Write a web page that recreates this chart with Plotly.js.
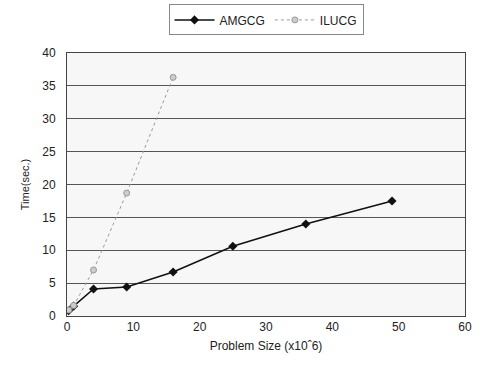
<!DOCTYPE html>
<html><head><meta charset="utf-8">
<script src="https://cdn.plot.ly/plotly-3.0.1.min.js"></script>
<style>html,body{margin:0;padding:0;background:#fff;}#chart{width:483px;height:366px;}</style>
</head><body><div id="chart"></div>
<script>
var amgX = [0.25, 1, 4, 9, 16, 25, 36, 49];
var amgY = [0.8, 1.5, 4.1, 4.4, 6.7, 10.6, 14.0, 17.5];
var iluX = [0.25, 1, 4, 9, 16];
var iluY = [0.9, 1.6, 7.0, 18.7, 36.3];
var xTicks = [0, 10, 20, 30, 40, 50, 60];
var yTicks = [0, 5, 10, 15, 20, 25, 30, 35, 40];

var traces = [
  {x: amgX, y: amgY, name: 'AMGCG', mode: 'lines+markers', type: 'scatter',
   line: {color: '#111', width: 1.5},
   marker: {symbol: 'diamond', size: 7, color: '#111'}},
  {x: iluX, y: iluY, name: 'ILUCG', mode: 'lines+markers', type: 'scatter',
   line: {color: '#999', width: 1, dash: 'dot'},
   marker: {symbol: 'circle', size: 6, color: '#ccc', line: {color: '#999', width: 1}}}
];
var layout = {
  width: 483, height: 366,
  margin: {l: 67, r: 18, t: 53, b: 50, autoexpand: false},
  paper_bgcolor: '#fff', plot_bgcolor: '#f7f7f7',
  font: {family: 'Liberation Sans, Arial, sans-serif', size: 11, color: '#222'},
  showlegend: true,
  legend: {orientation: 'h', x: 0.5, xanchor: 'center', xref: 'paper',
    y: 0.988, yanchor: 'top', yref: 'container',
    bordercolor: '#888', borderwidth: 1, bgcolor: '#fff',
    font: {size: 12, color: '#222'}, itemwidth: 40},
  xaxis: {range: [0, 60], tickvals: xTicks, ticktext: xTicks.map(String),
    showgrid: false, zeroline: false, showline: true, linecolor: '#444', linewidth: 1,
    mirror: true, ticks: '', tickfont: {size: 12},
    title: {text: 'Problem Size (x10ˆ6)', font: {size: 12}, standoff: 8}},
  yaxis: {range: [0, 40], tickvals: yTicks, ticktext: yTicks.map(String),
    showgrid: true, gridcolor: '#555', gridwidth: 1, zeroline: false,
    showline: true, linecolor: '#444', linewidth: 1, mirror: true, ticks: '',
    tickfont: {size: 12}, ticklabelstandoff: 8,
    title: {text: 'Time(sec.)', font: {size: 11}, standoff: 10}}
};
Plotly.newPlot('chart', traces, layout, {displayModeBar: false, staticPlot: true});
</script></body></html>
